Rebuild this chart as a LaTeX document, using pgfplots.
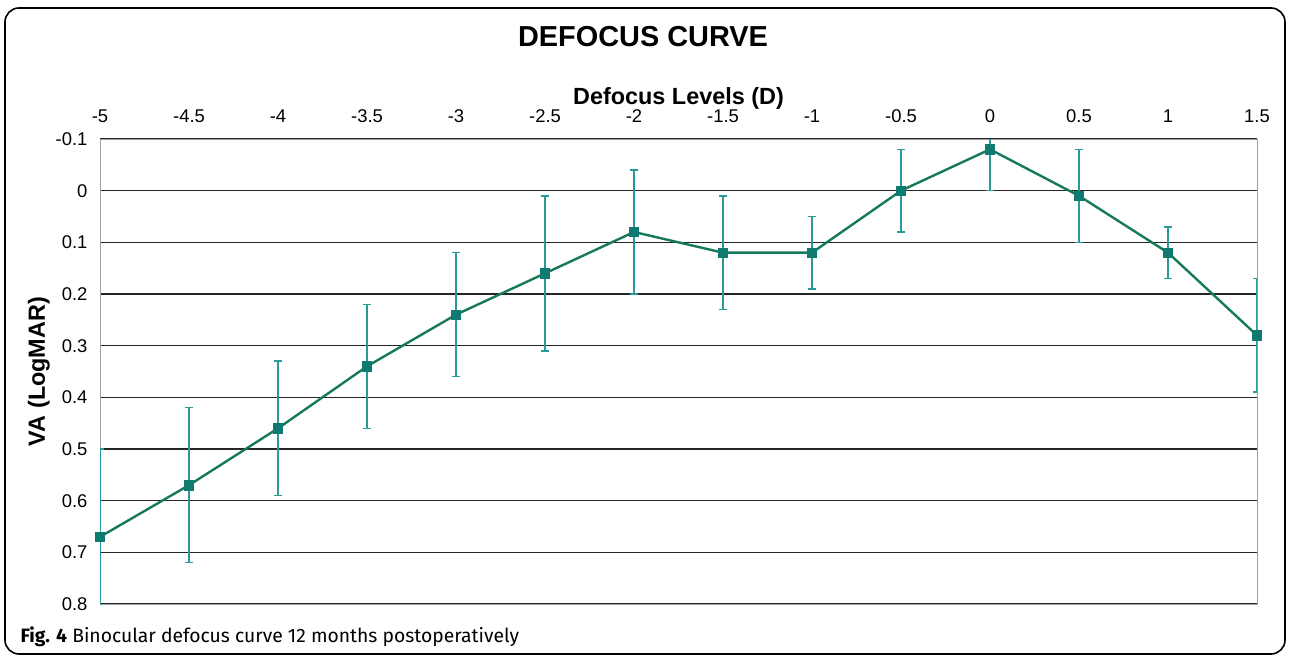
\documentclass[border=0pt]{standalone}
\usepackage{pgfplots}
\pgfplotsset{compat=1.18}
\usepackage{pgfplotstable}
\usepackage{fontspec}
\setmainfont{Liberation Sans}
\newfontfamily\capfont{Fira Sans}

\definecolor{curve}{HTML}{17795B}
\definecolor{markfill}{HTML}{0E7A70}
\definecolor{errbar}{HTML}{2A9A98}
\definecolor{frame}{HTML}{A0A0A0}

% defocus (D), mean VA (logMAR), SD
\pgfplotstableread{
x     y      e
-5    0.67   0.17
-4.5  0.57   0.15
-4    0.46   0.13
-3.5  0.34   0.12
-3    0.24   0.12
-2.5  0.16   0.15
-2    0.08   0.12
-1.5  0.12   0.11
-1    0.12   0.07
-0.5  0.00   0.08
0    -0.08   0.08
0.5   0.01   0.09
1     0.12   0.05
1.5   0.28   0.11
}\defocus

\begin{document}
\begin{tikzpicture}
\useasboundingbox (0bp,0bp) rectangle (1290bp,658bp);
\draw[line width=1.6bp, rounded corners=14bp] (5bp,4bp) rectangle (1285bp,650bp);

\node[font=\fontsize{29}{31}\selectfont\bfseries] at (643bp,621bp) {DEFOCUS CURVE};

\begin{axis}[
  at={(100bp,54bp)}, anchor=south west,
  scale only axis,
  width=1157bp, height=465bp,
  xmin=-5, xmax=1.5,
  ymin=-0.1, ymax=0.8,
  y dir=reverse,
  xtick={-5,-4.5,-4,-3.5,-3,-2.5,-2,-1.5,-1,-0.5,0,0.5,1,1.5},
  ytick={-0.1,0,0.1,0.2,0.3,0.4,0.5,0.6,0.7,0.8},
  xticklabel pos=upper,
  major tick length=0pt,
  /pgf/number format/assume math mode=true,
  ticklabel style={font=\fontsize{18.5}{20}\selectfont},
  yticklabel style={xshift=-9bp},
  xticklabel style={yshift=13bp},
  ymajorgrids,
  grid style={black!85, line width=1.5bp},
  axis line style={frame, line width=1bp},
  xlabel={Defocus Levels (D)},
  ylabel={VA (LogMAR)},
  xlabel style={font=\fontsize{23.5}{25}\selectfont\bfseries, yshift=-7bp},
  ylabel style={font=\fontsize{23.5}{25}\selectfont\bfseries, yshift=-1bp},
  clip=true,
]
\addplot[
  curve, line width=2.4bp,
  mark=square*, mark size=4.6bp,
  mark options={fill=markfill, draw=markfill, line width=0.5bp},
  error bars/.cd,
    y dir=both, y explicit,
    error bar style={errbar, line width=1.4bp},
    error mark options={rotate=90, errbar, mark size=4bp, line width=1.4bp},
] table[x=x, y=y, y error=e] {\defocus};
\end{axis}

\node[anchor=base west, font=\fontsize{19.4}{21}\selectfont\capfont] at (17bp,16bp)
  {\textbf{Fig. 4} Binocular defocus curve 12 months postoperatively};
\end{tikzpicture}
\end{document}
